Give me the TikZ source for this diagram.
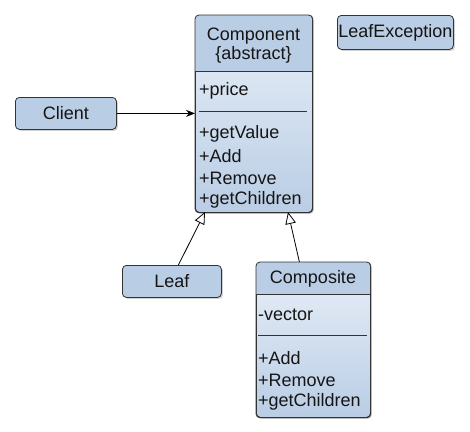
\documentclass[tikz,border=0pt]{standalone}
\usepackage{fontspec}
\setmainfont{Liberation Sans}
\usetikzlibrary{arrows.meta,shadows,calc}
\definecolor{boxfill}{HTML}{B9CDE5}
\definecolor{bodytop}{HTML}{EAF0F8}
\definecolor{edgecol}{HTML}{333333}
\definecolor{txtcol}{HTML}{151515}
\begin{document}
\begin{tikzpicture}[x=1pt,y=-1pt,
  font=\fontsize{18}{22}\selectfont, text=txtcol,
  edgeline/.style={draw=edgecol,line width=0.8pt},
  boxshadow/.style={drop shadow={shadow xshift=1.5pt,shadow yshift=-1.5pt,opacity=0.3,fill=black!60}},
  simplebox/.style={edgeline,fill=boxfill,rounded corners=4pt,inner sep=0pt,anchor=north west,boxshadow},
  classbox/.style={edgeline,top color=bodytop,bottom color=boxfill,rounded corners=4pt,inner sep=0pt,anchor=north west,boxshadow},
  member/.style={anchor=west,inner sep=0pt},
  title/.style={align=center,inner sep=0pt,font=\fontsize{18}{19}\selectfont},
  conn/.style={draw=black,line width=0.8pt},
  inherit/.style={conn,-{Triangle[open,fill=white,length=12pt,width=10.5pt]}}
]
\useasboundingbox[fill=white] (0,0) rectangle (470,431);

% simple boxes
\node[simplebox,minimum width=101pt,minimum height=32pt] (client) at (15,97) {Client};
\node[simplebox,minimum width=116pt,minimum height=34pt] (leafex) at (337,15) {LeafException};
\node[simplebox,minimum width=99pt,minimum height=32pt] (leaf) at (122,265) {Leaf};

% Component class
\node[classbox,minimum width=117pt,minimum height=197pt] (comp) at (195,15) {};
\fill[boxfill] (195,71) [rounded corners=4pt] -- (195,15) -- (312,15) [sharp corners] -- (312,71) -- cycle;
\draw[edgeline] (195,71) -- (312,71);
\draw[edgeline] (199,111) -- (307,111);
\draw[edgeline,rounded corners=4pt] (comp.north west) rectangle (comp.south east);
\node[title] (ctitle) at (253.5,46) {Component\\\{abstract\}};
\node[member] (cprice) at (199,91) {+price};
\node[member] (cget) at (199,134) {+getValue};
\node[member] (cadd) at (199,156) {+Add};
\node[member] (crem) at (199,178) {+Remove};
\node[member] (cchild) at (199,200) {+getChildren};

% Composite class
\node[classbox,minimum width=114pt,minimum height=155pt] (compo) at (256,262) {};
\fill[boxfill] (256,294) [rounded corners=4pt] -- (256,262) -- (370,262) [sharp corners] -- (370,294) -- cycle;
\draw[edgeline] (256,294) -- (370,294);
\draw[edgeline] (258,335) -- (367,335);
\draw[edgeline,rounded corners=4pt] (compo.north west) rectangle (compo.south east);
\node[title] (cotitle) at (313,279) {Composite};
\node[member] (covec) at (258,315) {-vector};
\node[member] (coadd) at (258,358) {+Add};
\node[member] (corem) at (258,380) {+Remove};
\node[member] (cochild) at (258,402) {+getChildren};

% connectors
\draw[conn,-{Stealth[length=9pt,width=7pt]}] (client.east) -- (comp.west |- client.east);
\coordinate (lt) at (205,212);
\coordinate (ct) at (288,212);
\draw[inherit] ($(leaf.north)+(6.5,0)$) -- (lt);
\draw[inherit] ($(compo.north)+(-14,0)$) -- (ct);
\end{tikzpicture}
\end{document}
